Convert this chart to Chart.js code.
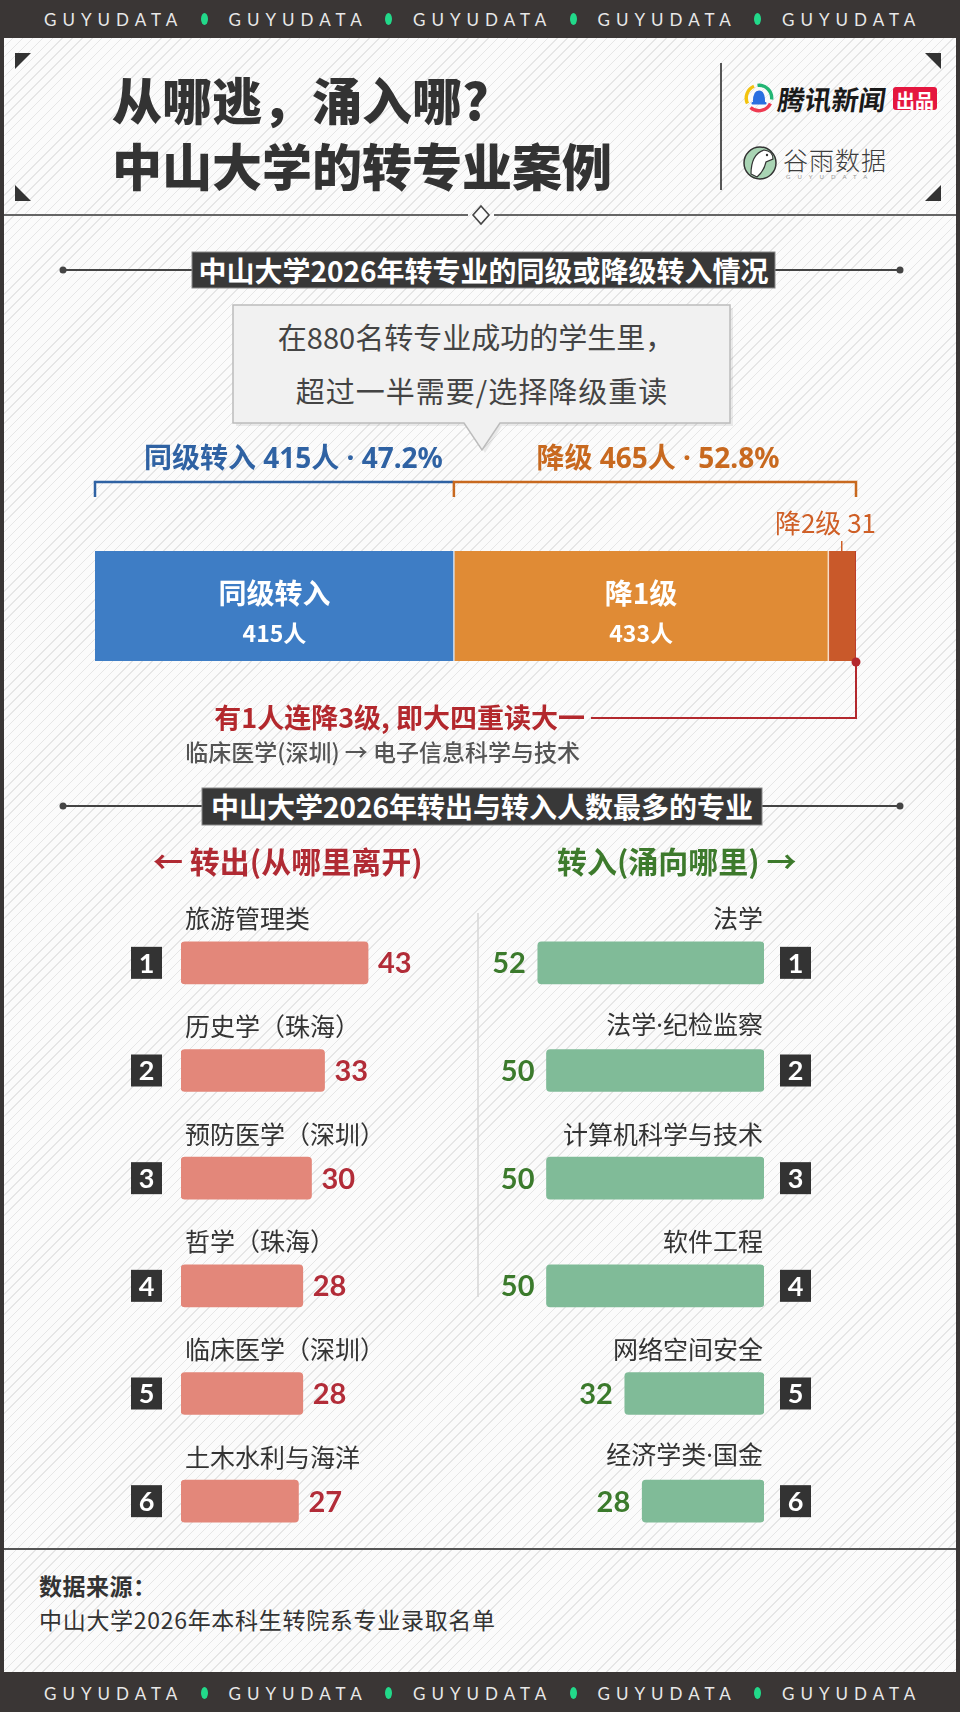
<!DOCTYPE html>
<html lang="zh-CN">
<head>
<meta charset="utf-8">
<title>从哪逃，涌入哪？中山大学的转专业案例</title>
<script src="https://cdn.jsdelivr.net/npm/chart.js@4.4.1/dist/chart.umd.min.js"></script>
<style>
  html, body { margin: 0; padding: 0; }
  body { position: relative; width: 960px; height: 1712px; overflow: hidden; background: #3a3635;
         font-family: "Noto Sans CJK SC", "Noto Sans", sans-serif; }
  #panel { position: absolute; left: 4px; top: 38px; width: 952px; height: 1634px;
           background: repeating-linear-gradient(135deg, #fbfbfb 0 6px, #e6e6e6 6px 7px); }
  svg, canvas { position: absolute; }
  .t { position: absolute; white-space: nowrap; line-height: 1; }
</style>
</head>
<body>
<div id="panel"></div>
<svg id="deco" width="960" height="1712" style="left:0;top:0">
  <!-- coins du cadre du titre -->
  <g fill="#333">
    <polygon points="15,53 31,53 15,69"/>
    <polygon points="941,53 925,53 941,69"/>
    <polygon points="15,201 15,185 31,201"/>
    <polygon points="941,201 941,185 925,201"/>
  </g>
  <line x1="721" y1="63" x2="721" y2="190" stroke="#555" stroke-width="2"/>
  <line x1="4" y1="215" x2="468" y2="215" stroke="#666" stroke-width="2"/>
  <line x1="494" y1="215" x2="956" y2="215" stroke="#666" stroke-width="2"/>
  <path d="M481,206 L489,215 L481,224 L473,215 Z" fill="#fbfbfb" stroke="#444" stroke-width="1.6"/>

  <!-- logo tencent -->
  <g transform="translate(759,98)" fill="none" stroke-width="3.4">
    <path d="M -11.5,5.5 A 12.7 12.7 0 0 1 -5,-11.7" stroke="#f3c30f"/>
    <path d="M -1.5,-12.6 A 12.7 12.7 0 0 1 12.6,1.5" stroke="#22b573"/>
    <path d="M 11.4,5.6 A 12.7 12.7 0 0 1 -8.5,9.4" stroke="#ee3b52"/>
    <path d="M -6,5 Q -6.5,-7.5 0,-7.5 Q 6.5,-7.5 6,5 Z" fill="#2a6fe0" stroke="none"/>
    <rect x="-7.5" y="4" width="15" height="2.6" rx="1" fill="#2a6fe0" stroke="none"/>
  </g>
  <rect x="893" y="87" width="44" height="23" rx="3" fill="#e5173f"/>

  <!-- logo guyu -->
  <circle cx="760" cy="163" r="16" fill="#a9d4b4" stroke="#333" stroke-width="1.5"/>
  <path d="M751,174 Q751,154 764,150 Q773,151 773,159 L766,162 Q764,171 757,177 Z" fill="#fff" stroke="#333" stroke-width="1.2"/>
  <circle cx="767" cy="155" r="1.2" fill="#333"/>

  <!-- titre de section 1 -->
  <line x1="63" y1="270" x2="900" y2="270" stroke="#444" stroke-width="2"/>
  <circle cx="63" cy="270" r="3.5" fill="#444"/>
  <circle cx="900" cy="270" r="3.5" fill="#444"/>
  <rect x="192" y="252" width="583" height="36" fill="#383838" stroke="#8a8a8a" stroke-width="1"/>

  <!-- bulle -->
  <path d="M236,308 H733 V426 H502 L485,453 L467,426 H236 Z" fill="rgba(0,0,0,0.07)"/>
  <path d="M233,305 H730 V423 H500 L482,450 L464,423 H233 Z" fill="#f1f1f1" stroke="#bcbcbc" stroke-width="1.5"/>

  <!-- titre de section 2 -->
  <line x1="63" y1="806" x2="900" y2="806" stroke="#444" stroke-width="2"/>
  <circle cx="63" cy="806" r="3.5" fill="#444"/>
  <circle cx="900" cy="806" r="3.5" fill="#444"/>
  <rect x="202" y="788" width="560" height="37" fill="#383838" stroke="#8a8a8a" stroke-width="1"/>

  <line x1="478" y1="913" x2="478" y2="1297" stroke="#d6d6d6" stroke-width="1.5"/>
  <line x1="4" y1="1549" x2="956" y2="1549" stroke="#555" stroke-width="2"/>
</svg>
<canvas id="stack" width="960" height="340" style="left:0;top:440px"></canvas>
<canvas id="outChart" width="380" height="680" style="left:100px;top:880px"></canvas>
<canvas id="inChart" width="380" height="680" style="left:480px;top:880px"></canvas>
<script>
// dati: transfer per livello
var levelNames = ['同级转入', '降1级', '降2级', '降3级'];
var levelCounts = [415, 433, 31, 1];
var levelColors = ['#3e7dc5', '#e08b35', '#c9592a', '#b3282d'];
var totalTransfers = 880;
var groupNames = ['同级转入', '降级'];
var groupCounts = [415, 465];
var groupShares = ['47.2%', '52.8%'];

// dati: top 6 in uscita / in entrata
var outMajors = ['旅游管理类', '历史学（珠海）', '预防医学（深圳）', '哲学（珠海）', '临床医学（深圳）', '土木水利与海洋'];
var outCounts = [43, 33, 30, 28, 28, 27];
var inMajors = ['法学', '法学·纪检监察', '计算机科学与技术', '软件工程', '网络空间安全', '经济学类·国金'];
var inCounts = [52, 50, 50, 50, 32, 28];
var ranks = ['1', '2', '3', '4', '5', '6'];

var CJK = '"Noto Sans CJK SC", "Noto Sans", sans-serif';
// latino prima, così il punto "·" resta stretto
var MIX = '"Noto Sans", "Noto Sans CJK SC", sans-serif';

function put(s, x, y, align, css) {
  var d = document.createElement('div');
  d.className = 't';
  d.textContent = s;
  d.style.cssText = css;
  d.style.left = x + 'px';
  d.style.top = y + 'px';
  var tx = align === 'c' ? '-50%' : (align === 'r' ? '-100%' : '0');
  d.style.transform = 'translate(' + tx + ',-50%)';
  document.body.appendChild(d);
  return d;
}

// fasce GUYUDATA sopra e sotto
[19, 1693].forEach(function(cy) {
  for (var k = 0; k < 5; k++) {
    put('GUYUDATA', 44 + k * 184.5, cy, 'l', 'font:400 17px Lato;letter-spacing:6px;color:#e8e8e8;');
    if (k < 4) {
      var dot = document.createElement('div');
      dot.style.cssText = 'position:absolute;width:7px;height:12px;border-radius:50%;background:#22d98a;';
      dot.style.left = (200.5 + k * 184.5) + 'px';
      dot.style.top = (cy - 6) + 'px';
      document.body.appendChild(dot);
    }
  }
});

// titolo e loghi
put('从哪逃，涌入哪?', 112, 98, 'l', 'font-weight:900;font-size:50px;color:#333;');
put('中山大学的转专业案例', 112, 164, 'l', 'font-weight:900;font-size:50px;color:#333;');
var tx = put('腾讯新闻', 778, 98, 'l', 'font-weight:700;font-size:27px;color:#1a1a1a;');
tx.style.transform = 'translate(0,-50%) skewX(-8deg)';
put('出品', 915, 98.5, 'c', 'font-weight:700;font-size:19px;color:#fff;');
put('谷雨数据', 783, 159, 'l', 'font-weight:300;font-size:25px;color:#3d3d3d;letter-spacing:1px;');
put('GUYUDATA', 786, 176, 'l', 'font:400 6px Lato;letter-spacing:7px;color:#9a9a9a;');

// intestazioni di sezione
put('中山大学2026年转专业的同级或降级转入情况', 483.5, 270, 'c', 'font-weight:700;font-size:28px;color:#fff;');
put('在880名转专业成功的学生里，', 476, 336, 'c', 'font-size:29px;color:#444;');
put('超过一半需要/选择降级重读', 482, 390, 'c', 'font-size:29px;letter-spacing:1px;color:#444;');
put('中山大学2026年转出与转入人数最多的专业', 482, 806, 'c', 'font-weight:700;font-size:28px;color:#fff;');
put('← 转出(从哪里离开)', 153, 860, 'l', 'font-weight:700;font-size:30px;color:#b02a33;');
put('转入(涌向哪里) →', 557, 860, 'l', 'font-weight:700;font-size:30px;color:#3d7a2c;');

// fonte
put('数据来源：', 39, 1585, 'l', 'font-weight:700;font-size:23px;letter-spacing:0.5px;color:#333;');
put('中山大学2026年本科生转院系专业录取名单', 39, 1619, 'l', 'font-size:23px;letter-spacing:0.7px;color:#333;');

// barra impilata: etichette, parentesi e annotazione
var stackDeco = {
  id: 'stackDeco',
  afterDatasetsDraw: function(chart) {
    var ctx = chart.ctx, a = chart.chartArea, xs = chart.scales.x;
    var px = function(v) { return xs.getPixelForValue(v); };
    var edges = [0];
    for (var i = 0; i < levelCounts.length; i++) edges.push(edges[i] + levelCounts[i]);
    ctx.save();

    // separatori tra i segmenti
    ctx.strokeStyle = 'rgba(255,255,255,0.75)';
    ctx.lineWidth = 1.5;
    for (var j = 1; j <= 2; j++) {
      ctx.beginPath();
      ctx.moveTo(px(edges[j]), a.top);
      ctx.lineTo(px(edges[j]), a.bottom);
      ctx.stroke();
    }

    // testi dentro le barre
    ctx.fillStyle = '#fff';
    ctx.textAlign = 'center';
    ctx.textBaseline = 'middle';
    for (var k = 0; k < 2; k++) {
      var cx = (px(edges[k]) + px(edges[k + 1])) / 2;
      ctx.font = '700 28px ' + CJK;
      ctx.fillText(levelNames[k], cx, a.top + 42);
      ctx.font = '700 23px ' + CJK;
      ctx.fillText(levelCounts[k] + '人', cx, a.top + 82);
    }

    // parentesi dei due gruppi
    var by = a.top - 69, split = groupCounts[0];
    ctx.lineWidth = 2.5;
    ctx.strokeStyle = '#2f62a3';
    ctx.beginPath();
    ctx.moveTo(px(0), by + 15); ctx.lineTo(px(0), by); ctx.lineTo(px(split), by);
    ctx.stroke();
    ctx.strokeStyle = '#c8691f';
    ctx.beginPath();
    ctx.moveTo(px(split), by + 15); ctx.lineTo(px(split), by); ctx.lineTo(px(totalTransfers), by); ctx.lineTo(px(totalTransfers), by + 15);
    ctx.stroke();

    ctx.font = '700 28px ' + MIX;
    ctx.fillStyle = '#2f62a3';
    ctx.textAlign = 'right';
    ctx.fillText(groupNames[0] + ' ' + groupCounts[0] + '人 · ' + groupShares[0], px(split) - 11, a.top - 91);
    ctx.fillStyle = '#c8691f';
    ctx.textAlign = 'center';
    ctx.fillText(groupNames[1] + ' ' + groupCounts[1] + '人 · ' + groupShares[1], (px(split) + px(totalTransfers)) / 2 + 3, a.top - 91);

    // 降2级
    var c2 = (px(edges[2]) + px(edges[3])) / 2;
    ctx.strokeStyle = '#cf5f26';
    ctx.lineWidth = 1.5;
    ctx.beginPath();
    ctx.moveTo(c2, a.top - 10); ctx.lineTo(c2, a.top);
    ctx.stroke();
    ctx.font = '400 26px ' + CJK;
    ctx.fillStyle = '#cf5f26';
    ctx.textAlign = 'right';
    ctx.fillText(levelNames[2] + ' ' + levelCounts[2], a.right + 20, a.top - 28);

    // annotazione 降3级
    var ex = px(totalTransfers), ly = a.bottom + 57;
    ctx.strokeStyle = '#b3282d';
    ctx.lineWidth = 2;
    ctx.beginPath();
    ctx.moveTo(ex, a.bottom); ctx.lineTo(ex, ly); ctx.lineTo(591, ly);
    ctx.stroke();
    ctx.fillStyle = '#b3282d';
    ctx.beginPath();
    ctx.arc(ex, a.bottom + 1, 4.5, 0, Math.PI * 2);
    ctx.fill();
    ctx.font = '700 27px ' + CJK;
    ctx.fillText('有' + levelCounts[3] + '人连降3级, 即大四重读大一', 585, ly);
    ctx.font = '500 23px ' + CJK;
    ctx.fillStyle = '#555';
    ctx.fillText('临床医学(深圳) → 电子信息科学与技术', 580, ly + 34);
    ctx.restore();
  }
};

new Chart(document.getElementById('stack'), {
  type: 'bar',
  data: {
    labels: ['转入'],
    datasets: levelNames.map(function(n, i) {
      return { label: n, data: [levelCounts[i]], backgroundColor: levelColors[i], borderWidth: 0, barPercentage: 1, categoryPercentage: 1 };
    })
  },
  options: {
    indexAxis: 'y',
    responsive: false,
    animation: false,
    layout: { padding: { left: 95, right: 104, top: 111, bottom: 119 } },
    scales: {
      x: { stacked: true, display: false, min: 0, max: totalTransfers },
      y: { stacked: true, display: false }
    },
    plugins: { legend: { display: false }, tooltip: { enabled: false } }
  },
  plugins: [stackDeco]
});

// righe delle classifiche: nome, valore, numero di posizione
function rowsPlugin(side) {
  return {
    id: 'rows_' + side,
    afterDatasetsDraw: function(chart) {
      var ctx = chart.ctx;
      var meta = chart.getDatasetMeta(0);
      var labels = chart.data.labels, vals = chart.data.datasets[0].data;
      var isOut = side === 'out';
      ctx.save();
      ctx.textBaseline = 'middle';
      meta.data.forEach(function(bar, i) {
        var y = bar.y, base = bar.base, end = bar.x;
        ctx.font = '400 25px ' + (labels[i].indexOf('·') >= 0 ? MIX : CJK);
        ctx.fillStyle = '#333';
        ctx.textAlign = isOut ? 'left' : 'right';
        ctx.fillText(labels[i], isOut ? base + 4 : base - 1, y - 44);

        ctx.font = '700 29px Lato';
        ctx.fillStyle = isOut ? '#b22c38' : '#3b7a2c';
        ctx.textAlign = isOut ? 'left' : 'right';
        ctx.fillText(vals[i], isOut ? end + 10 : end - 12, y + 1);

        var bx = isOut ? base - 50 : base + 16;
        ctx.fillStyle = '#333';
        ctx.fillRect(bx, y - 16, 31, 32);
        ctx.fillStyle = '#fff';
        ctx.font = '700 27px Lato';
        ctx.textAlign = 'center';
        ctx.fillText(ranks[i], bx + 15.5, y + 1);
      });
      ctx.restore();
    }
  };
}

function rankChart(id, labels, values, color, side, pad) {
  return new Chart(document.getElementById(id), {
    type: 'bar',
    data: {
      labels: labels,
      datasets: [{ data: values, backgroundColor: color, borderRadius: 4, borderSkipped: false, barThickness: 42 }]
    },
    options: {
      indexAxis: 'y',
      responsive: false,
      animation: false,
      layout: { padding: pad },
      scales: {
        x: { display: false, min: 0, max: 60, reverse: side === 'in' },
        y: { display: false }
      },
      plugins: { legend: { display: false }, tooltip: { enabled: false } }
    },
    plugins: [rowsPlugin(side)]
  });
}

rankChart('outChart', outMajors, outCounts, '#e3877a', 'out', { left: 81, right: 38, top: 29, bottom: 5 });
rankChart('inChart', inMajors, inCounts, '#80bb98', 'in', { left: 23, right: 96, top: 29, bottom: 5 });
</script>
</body>
</html>
